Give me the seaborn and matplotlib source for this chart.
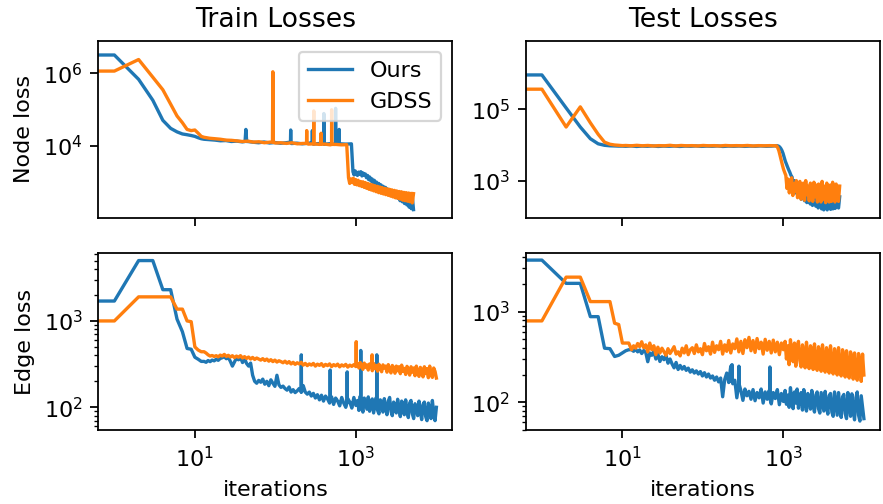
import numpy as np
import matplotlib
matplotlib.use("Agg")
import matplotlib.pyplot as plt
import seaborn as sns
from matplotlib.ticker import FixedLocator, NullLocator, LogLocator, LogFormatterSciNotation, NullFormatter

# ---------------- data ----------------
# Train / Node loss
tl_ours_head_x = [0, 1, 2, 3, 4, 5, 6, 7, 8, 9, 10, 11, 12]
tl_ours_head_y = [3.2e6, 3.2e6, 6.8e5, 1.8e5, 5e4, 3e4, 2.4e4, 2.1e4, 2e4, 1.9e4, 1.8e4, 1.65e4, 1.55e4]
tl_ours_a = [1.5e4, 1.46e4, 1.42e4, 1.36e4, 1.38e4, 1.3e4, 1.33e4, 1.27e4, 1.3e4, 1.24e4, 1.2e4, 1.26e4, 1.18e4, 1.22e4,
             1.16e4, 1.2e4, 1.14e4, 1.17e4, 1.12e4, 1.16e4, 1.1e4, 1.14e4, 1.09e4, 1.13e4, 1.08e4, 1.12e4, 1.1e4, 1.12e4]
tl_ours_b = [1.9e3, 1.55e3, 2.0e3, 1.7e3, 1.5e3, 1.85e3, 1.6e3, 1.9e3, 1.45e3, 1.75e3, 1.5e3,
             1.65e3, 1.3e3, 1.5e3, 1.15e3, 1.35e3, 1.05e3, 1.2e3, 9.5e2, 1.1e3, 8.5e2,
             9.8e2, 7.8e2, 9e2, 7e2, 8.2e2, 6.4e2, 7.5e2, 5.8e2, 7e2, 5.3e2,
             6.3e2, 4.9e2, 5.8e2, 4.5e2, 5.4e2, 4.1e2, 5e2, 3.8e2, 4.7e2, 3.5e2,
             4.6e2, 3.0e2, 4.3e2, 2.8e2, 4.1e2, 2.5e2, 3.9e2, 2.3e2, 3.8e2, 2.0e2, 3.8e2, 1.8e2, 3.6e2, 1.7e2]
tl_ours_spike_x = [42, 43, 44, 154, 155, 156, 287, 288, 289, 399, 400, 401, 559, 560, 561, 619, 620, 621]
tl_ours_spike_y = [1.3e4, 2.8e4, 1.3e4, 1.25e4, 2.7e4, 1.25e4, 1.2e4, 2.6e4, 1.2e4, 1.15e4, 7.7e4, 1.15e4,
                   1.12e4, 1.07e5, 1.12e4, 1.1e4, 2.8e4, 1.1e4]

tl_gdss_head_x = [0, 1, 2, 3, 4, 5, 6, 7, 8, 9, 10, 11, 12]
tl_gdss_head_y = [1.15e6, 1.15e6, 2.4e6, 7.8e5, 3.5e5, 1.4e5, 6.6e4, 4.3e4, 2.8e4, 2.6e4, 2.7e4, 2.2e4, 1.8e4]
tl_gdss_a = [1.7e4, 1.6e4, 1.55e4, 1.5e4, 1.42e4, 1.4e4, 1.35e4, 1.3e4, 1.33e4, 1.25e4, 1.28e4, 1.2e4, 1.25e4, 1.18e4,
             1.2e4, 1.15e4, 1.2e4, 1.12e4, 1.15e4, 1.1e4, 1.13e4, 1.08e4, 1.1e4, 1.05e4, 1.08e4, 1.05e4, 1.06e4]
tl_gdss_b = [1.3e3, 9e2, 1.2e3, 9.5e2, 1.25e3, 8.5e2, 1.15e3, 8.2e2, 1.1e3, 7.8e2, 1.02e3,
             7.4e2, 1.0e3, 7e2, 9.5e2, 6.6e2, 9e2, 6.2e2, 8.6e2, 5.9e2, 8.2e2,
             5.6e2, 7.8e2, 5.3e2, 7.5e2, 5e2, 7.2e2, 4.8e2, 6.9e2, 4.6e2, 6.6e2,
             4.4e2, 6.4e2, 4.2e2, 6.2e2, 4e2, 6e2, 3.8e2, 5.8e2, 3.6e2, 5.6e2,
             3.5e2, 5.4e2, 3.3e2, 5.3e2, 3.1e2, 5.1e2, 3e2, 5e2, 2.9e2, 4.9e2, 2.8e2, 4.8e2, 2.6e2, 4.7e2]
tl_gdss_spike_x = [92, 93, 94, 244, 245, 246, 299, 300, 301, 369, 370, 371, 499, 500, 501]
tl_gdss_spike_y = [1.25e4, 1.1e6, 1.25e4, 1.15e4, 2.6e4, 1.15e4, 1.12e4, 9.1e4, 1.12e4, 1.1e4, 2.2e4, 1.1e4,
                   1.08e4, 9.8e4, 1.08e4]

# Test / Node loss
tr_ours_head_x = [0, 1, 2, 3, 4, 5, 6, 7, 8, 9, 10]
tr_ours_head_y = [9.3e5, 9.3e5, 1.1e5, 3.2e4, 1.5e4, 1.08e4, 9.8e3, 9.5e3, 9.4e3, 9.3e3, 9.3e3]
tr_ours_a = [9.2e3, 9.4e3, 9.1e3, 9.3e3, 9.2e3, 9.4e3, 9.1e3, 9.3e3, 9.2e3, 9.35e3, 9.1e3, 9.3e3, 9.2e3, 9.4e3, 9.15e3,
             9.3e3, 9.2e3, 9.4e3, 9.1e3, 9.3e3, 9.2e3, 9.35e3, 9.15e3, 9.3e3, 9.2e3, 9.4e3, 9.2e3, 9.3e3, 9.6e3]
tr_ours_b = [9.3e3, 8.8e3, 8e3, 7e3, 5.8e3, 4.5e3, 3.5e3, 2.9e3, 2.4e3, 2e3, 1.7e3, 1.4e3, 1.25e3,
             6e2, 1.0e3, 4.5e2, 8e2, 5e2, 3.6e2, 7.5e2, 3e2, 6e2, 4.2e2,
             2.7e2, 6.5e2, 2.4e2, 5e2, 3.2e2, 2.2e2, 5.5e2, 2e2, 4e2, 2.8e2,
             1.9e2, 5e2, 1.7e2, 3.5e2, 4.5e2, 1.6e2, 3e2, 1.5e2, 4.5e2, 2.2e2,
             1.5e2, 4e2, 2.5e2, 1.55e2, 4.2e2, 1.6e2, 3e2, 1.65e2, 4e2, 2e2, 1.7e2, 3.5e2]

tr_gdss_head_x = [0, 1, 2, 3, 4, 5, 6, 7, 8, 9, 10]
tr_gdss_head_y = [3.7e5, 3.7e5, 3.2e4, 1.18e5, 4.2e4, 2e4, 1.2e4, 1.05e4, 1e4, 9.8e3, 9.6e3]
tr_gdss_a = [9.7e3, 9.5e3, 9.8e3, 9.5e3, 9.7e3, 9.4e3, 9.6e3, 9.5e3, 9.8e3, 9.4e3, 9.7e3, 9.5e3, 9.6e3, 9.4e3, 9.7e3,
             9.5e3, 9.6e3, 9.4e3, 9.7e3, 9.5e3, 9.6e3, 9.5e3, 9.7e3, 9.4e3, 9.6e3, 9.5e3, 9.6e3, 9.5e3]
tr_gdss_b = [9.5e3, 8.5e3, 7e3, 5.2e3, 3.8e3, 2.8e3, 2.1e3, 1.7e3,
             1.4e3, 6e2, 1.1e3, 4.5e2, 9e2, 1.2e3, 3.8e2, 8e2, 5e2, 1.0e3,
             3.3e2, 7e2, 9.5e2, 3e2, 6e2, 8.5e2, 2.8e2, 1.0e3, 4e2, 7e2,
             2.7e2, 8.5e2, 5e2, 2.6e2, 9e2, 3.5e2, 7.5e2, 2.5e2, 8e2, 4.5e2,
             2.5e2, 9.5e2, 3e2, 7e2, 2.4e2, 8.5e2, 5e2, 2.5e2, 7.5e2, 2.6e2,
             9e2, 3.5e2, 2.5e2, 8e2, 4e2, 2.6e2, 7e2]

# Train / Edge loss
bl_ours_head_x = [0, 1, 2, 3, 4, 5, 6, 7, 8, 9, 10, 11, 12]
bl_ours_head_y = [1.7e3, 1.7e3, 5e3, 5e3, 2.3e3, 2.3e3, 1.05e3, 7.5e2, 4.8e2, 4.7e2, 3.8e2, 3.6e2, 3.4e2]
bl_ours_a = [340, 332, 348, 338, 352, 345, 360, 350, 368, 375,
             385, 365, 378, 340, 300, 335, 372, 355, 380, 330,
             368, 322, 300, 325, 235, 200, 190, 205,
             195, 212, 185, 200, 178, 208, 190, 175, 235, 182, 170, 176,
             165, 158, 172, 150, 160, 148, 155, 165, 200, 178, 150, 142,
             150, 135, 145, 128, 140, 122, 138, 118, 135, 125, 112, 132,
             108, 128, 118, 104, 130, 112, 100, 126, 115, 98, 130, 105]
bl_ours_b = [120, 92, 135, 100, 88, 128, 110, 95, 132, 90, 118, 125, 86, 105, 130, 92, 84, 122, 112, 88,
             126, 98, 82, 118, 130, 90, 80, 115, 104, 86, 124, 95, 78, 118, 108, 82, 122, 90, 76, 112,
             120, 84, 74, 110, 100, 80, 118, 88, 72, 108, 115, 78, 70, 112, 96, 74, 120, 85, 70, 100]
bl_ours_spike_x = [209, 210, 211, 479, 480, 481, 779, 780, 781, 1149, 1150, 1151, 1819, 1820, 1821]
bl_ours_spike_y = [150, 405, 150, 125, 270, 125, 115, 257, 115, 110, 455, 110, 105, 405, 105]

bl_gdss_head_x = [0, 1, 2, 3, 4, 5, 6, 7, 8, 9, 10, 11, 12]
bl_gdss_head_y = [1e3, 1e3, 1.9e3, 1.9e3, 1.9e3, 1.9e3, 1.37e3, 1.37e3, 1e3, 9.8e2, 5e2, 4.6e2, 4.4e2]
bl_gdss_a = [440, 425, 405, 392, 398, 388, 396, 384, 402, 392,
             410, 388, 400, 382, 396, 376, 392, 380, 396, 372,
             386, 368, 382, 362, 378, 358, 372, 362, 352, 366,
             348, 362, 342, 356, 338, 352, 334, 346, 338, 328,
             342, 324, 338, 318, 332, 314, 328, 318, 332, 308,
             322, 304, 318, 308, 322, 300, 316, 306, 320, 298,
             314, 304, 318, 296, 312, 302, 316, 294, 310, 300,
             314, 292, 308, 298, 312, 296]
bl_gdss_b = [320, 285, 330, 300, 275, 325, 290, 310, 270, 318, 295, 265, 322, 280, 305, 262, 315, 290, 258, 310,
             285, 300, 255, 312, 270, 250, 305, 288, 248, 300, 265, 295, 245, 308, 260, 282, 240, 298, 270, 236,
             295, 255, 285, 232, 300, 250, 228, 290, 268, 225, 295, 245, 280, 220, 300, 240, 222, 285, 260, 218]
bl_gdss_spike_x = [1009, 1010, 1011, 1589, 1590, 1591]
bl_gdss_spike_y = [305, 575, 305, 300, 405, 300]

# Test / Edge loss
br_ours_head_x = [0, 1, 2, 3, 4, 5, 6, 7, 8, 9, 10, 11, 12]
br_ours_head_y = [3.7e3, 3.7e3, 2.05e3, 2.05e3, 8.8e2, 8.8e2, 3.95e2, 3.9e2, 3.2e2, 3.3e2, 3.5e2, 3.7e2, 3.8e2]
br_ours_a = [380, 365, 385, 360, 378, 345, 372, 355, 280, 350,
             330, 365, 300, 340, 282, 318, 295, 330, 270, 300,
             265, 240, 275, 230, 255, 232, 248, 225, 238, 215,
             228, 210, 222, 205, 218, 195, 212, 190, 205, 185,
             195, 175, 190, 168, 185, 115, 178, 210, 165, 250,
             160, 175, 112, 150, 135, 105, 140, 118, 132, 108,
             138, 104, 128, 112, 140, 98, 130, 108, 135, 96,
             128, 110, 138, 94, 125, 102]
br_ours_b = [135, 95, 120, 88, 145, 105, 85, 130, 98, 140, 86, 112, 128, 82, 138, 100, 80, 125, 110, 84,
             135, 92, 78, 120, 130, 85, 76, 128, 102, 80, 132, 90, 74, 118, 125, 78, 70, 130, 96, 72,
             128, 84, 68, 115, 122, 75, 66, 128, 92, 70, 124, 80, 64, 112, 130, 72, 62, 118, 88, 66]
br_ours_spike_x = [229, 230, 231, 279, 280, 281, 679, 680, 681]
br_ours_spike_y = [170, 260, 170, 160, 250, 160, 110, 245, 110]

br_gdss_head_x = [0, 1, 2, 3, 4, 5, 6, 7, 8, 9, 10, 11, 12]
br_gdss_head_y = [7.9e2, 7.9e2, 2.4e3, 2.4e3, 1.29e3, 1.29e3, 1.29e3, 1.29e3, 7.45e2, 7.2e2, 4.5e2, 4.5e2, 4.5e2]
br_gdss_a = [380, 420, 395, 445, 410, 465, 400, 430, 360, 450,
             380, 420, 335, 405, 350, 395, 360, 330, 390, 345,
             375, 410, 340, 360, 325, 395, 350, 420, 335, 380,
             400, 345, 430, 360, 390, 335, 445, 370, 410, 340,
             460, 355, 420, 380, 470, 340, 430, 365, 480, 350,
             440, 390, 500, 360, 470, 345, 490, 400, 520, 370,
             480, 355, 505, 390, 460, 340, 495, 375, 470, 350,
             485, 360, 460, 335, 450, 380]
br_gdss_b = [470, 300, 420, 260, 490, 340, 280, 450, 250, 400, 470, 290, 245, 430, 360, 240, 460, 310, 235, 420,
             380, 230, 440, 270, 225, 410, 350, 220, 430, 290, 215, 400, 340, 210, 420, 260, 205, 390, 330, 200,
             400, 250, 195, 380, 310, 190, 370, 240, 185, 360, 300, 180, 350, 230, 175, 345, 280, 170, 340, 200]

titles = ["Train Losses", "Test Losses"]
row_labels = ["Node loss", "Edge loss"]
series_names = ["Ours", "GDSS"]
x_label = "iterations"


def build(head_x, head_y, segs, spike_x=(), spike_y=()):
    xs = list(head_x)
    ys = list(head_y)
    for x0, x1, vals in segs:
        xs += list(np.geomspace(x0, x1, len(vals)))
        ys += list(vals)
    xs += list(spike_x)
    ys += list(spike_y)
    xs = np.asarray(xs, float)
    ys = np.asarray(ys, float)
    o = np.argsort(xs, kind="stable")
    return xs[o], ys[o]


panels = {
    (0, 0): [build(tl_ours_head_x, tl_ours_head_y, [(13, 880, tl_ours_a), (920, 5200, tl_ours_b)],
                   tl_ours_spike_x, tl_ours_spike_y),
             build(tl_gdss_head_x, tl_gdss_head_y, [(13, 770, tl_gdss_a), (810, 5200, tl_gdss_b)],
                   tl_gdss_spike_x, tl_gdss_spike_y)],
    (0, 1): [build(tr_ours_head_x, tr_ours_head_y, [(11, 830, tr_ours_a), (870, 5000, tr_ours_b)]),
             build(tr_gdss_head_x, tr_gdss_head_y, [(11, 790, tr_gdss_a), (820, 5000, tr_gdss_b)])],
    (1, 0): [build(bl_ours_head_x, bl_ours_head_y, [(13, 1000, bl_ours_a), (1050, 10000, bl_ours_b)],
                   bl_ours_spike_x, bl_ours_spike_y),
             build(bl_gdss_head_x, bl_gdss_head_y, [(13, 1000, bl_gdss_a), (1050, 10000, bl_gdss_b)],
                   bl_gdss_spike_x, bl_gdss_spike_y)],
    (1, 1): [build(br_ours_head_x, br_ours_head_y, [(13, 1000, br_ours_a), (1050, 10000, br_ours_b)],
                   br_ours_spike_x, br_ours_spike_y),
             build(br_gdss_head_x, br_gdss_head_y, [(13, 1000, br_gdss_a), (1050, 10000, br_gdss_b)])],
}

ylims = {
    (0, 0): (10 ** 2.01, 10 ** 6.90),
    (0, 1): (10 ** 1.96, 10 ** 6.93),
    (1, 0): (10 ** 1.737, 10 ** 3.785),
    (1, 1): (10 ** 1.694, 10 ** 3.645),
}
yticks = {
    (0, 0): [1e4, 1e6],
    (0, 1): [1e3, 1e5],
    (1, 0): [1e2, 1e3],
    (1, 1): [1e2, 1e3],
}

colors = ["#1f77b4", "#ff7f0e"]

fig, axes = plt.subplots(2, 2, sharex="col", figsize=(883 / 160, 504 / 160), dpi=160)
fig.subplots_adjust(left=0.1113, right=0.9966, top=0.9192, bottom=0.1468, wspace=0.207, hspace=0.201)

for (r, c), lines in panels.items():
    ax = axes[r, c]
    for k, (xs, ys) in enumerate(lines):
        sns.lineplot(x=xs, y=ys, ax=ax, color=colors[k], linewidth=1.5, estimator=None, sort=False,
                     legend=False, label=series_names[k])
    ax.set_xscale("log")
    ax.set_yscale("log")

for (r, c), ax in np.ndenumerate(axes):
    ax.set_xlim(10 ** -0.2, 10 ** 4.2)
    ax.set_ylim(*ylims[(r, c)])
    ax.yaxis.set_major_locator(FixedLocator(yticks[(r, c)]))
    ax.yaxis.set_major_formatter(LogFormatterSciNotation())
    if r == 0:
        ax.yaxis.set_minor_locator(NullLocator())
    else:
        ax.yaxis.set_minor_locator(LogLocator(base=10, subs=np.arange(2, 10), numticks=50))
    ax.yaxis.set_minor_formatter(NullFormatter())
    ax.xaxis.set_major_locator(FixedLocator([10, 1000]))
    ax.xaxis.set_major_formatter(LogFormatterSciNotation())
    ax.xaxis.set_minor_locator(NullLocator())
    ax.set_xlabel("")
    ax.set_ylabel("")

for c in range(2):
    axes[0, c].set_title(titles[c])
    axes[1, c].set_xlabel(x_label)
    axes[0, c].tick_params(labelbottom=False)
for r in range(2):
    axes[r, 0].set_ylabel(row_labels[r])

axes[0, 0].legend(loc="upper right")

fig.savefig("out.png", dpi=160)
